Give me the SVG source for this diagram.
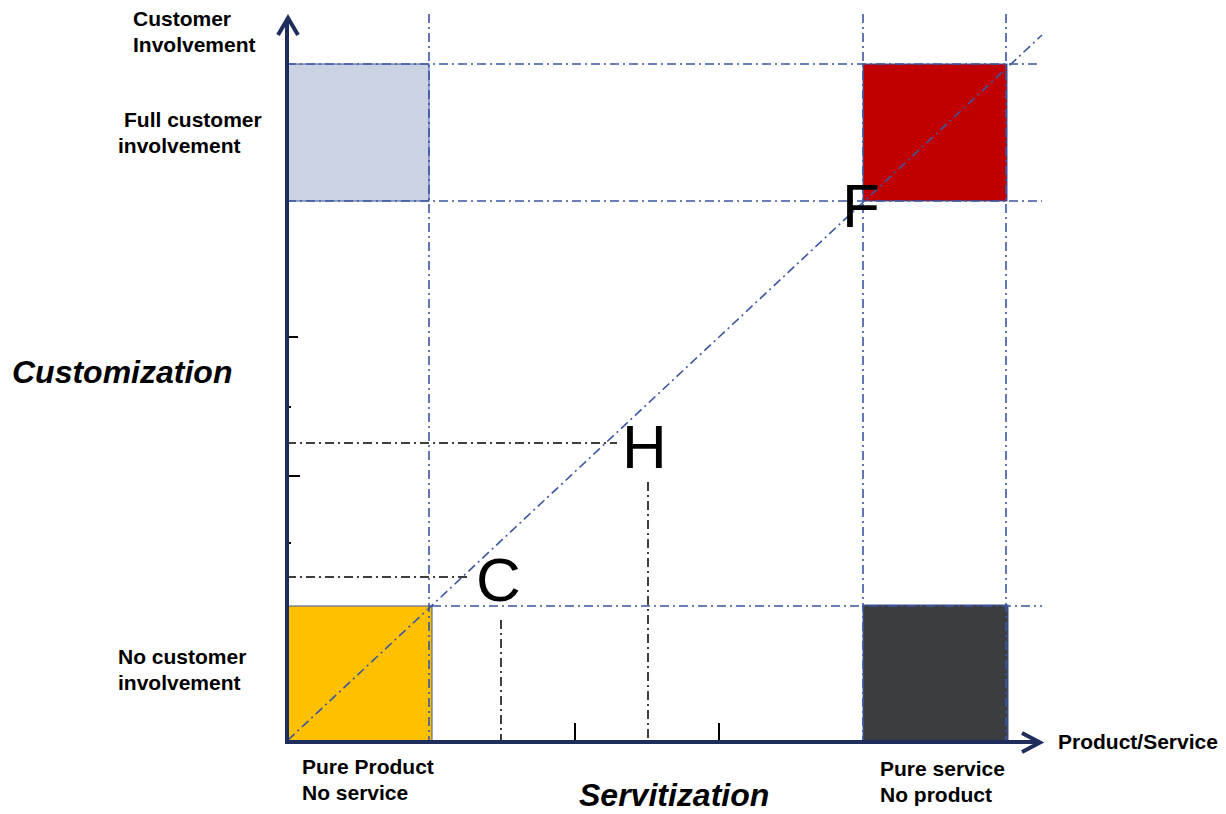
<svg xmlns="http://www.w3.org/2000/svg" width="1226" height="814" viewBox="0 0 1226 814">
<style>
.lbl{font-family:"Liberation Sans",Arial,sans-serif;font-weight:bold;font-size:21px;fill:#000}
.ax{font-family:"Liberation Sans",Arial,sans-serif;font-weight:bold;font-style:italic;font-size:32px;fill:#000}
.pt{font-family:"Liberation Sans",Arial,sans-serif;font-size:62px;fill:#000}
.guide{stroke:#3B56A0;stroke-width:1.6;fill:none;stroke-dasharray:9 4 2 4}
.bguide{stroke:#000;stroke-width:1.5;fill:none;stroke-dasharray:9 4 2 4}
.axis{stroke:#1F2D5C;stroke-width:4;fill:none}
.tick{stroke:#000;stroke-width:2}
.box{stroke:#3B56A0;stroke-width:1}
</style>
<rect width="1226" height="814" fill="#fff"/>
<g id="boxes">
<rect id="light" class="box" x="287" y="64" width="142" height="137" fill="#CBD2E4"/>
<rect id="red" class="box" x="863" y="64" width="144" height="137" fill="#C00000"/>
<rect id="yellow" class="box" x="287" y="606" width="145" height="136" fill="#FFC000"/>
<rect id="dark" class="box" x="863" y="605" width="145" height="137" fill="#3C3D40"/>
</g>
<g id="connectors">
<line class="guide" x1="287" y1="64" x2="1040" y2="64"/>
<line class="guide" x1="287" y1="201" x2="1042" y2="201"/>
<line class="guide" x1="432" y1="606" x2="1042" y2="606"/>
<line class="guide" x1="429" y1="14" x2="429" y2="742"/>
<line class="guide" x1="863" y1="14" x2="863" y2="742"/>
<line class="guide" x1="1006" y1="14" x2="1006" y2="742"/>
<line class="guide" x1="288" y1="740" x2="1042" y2="35"/>
<line class="bguide" x1="287" y1="443" x2="617" y2="443"/>
<line class="bguide" x1="287" y1="577" x2="470" y2="577"/>
<line class="bguide" x1="501" y1="620" x2="501" y2="742"/>
<line class="bguide" x1="648" y1="482" x2="648" y2="742"/>
<line class="tick" x1="287" y1="337" x2="298" y2="337"/>
<line class="tick" x1="287" y1="407" x2="291" y2="407"/>
<line class="tick" x1="287" y1="476" x2="300" y2="476"/>
<line class="tick" x1="287" y1="543" x2="291" y2="543"/>
<line class="tick" x1="575" y1="742" x2="575" y2="723"/>
<line class="tick" x1="719" y1="742" x2="719" y2="723"/>
<line class="axis" x1="287" y1="744" x2="287" y2="20"/>
<polyline class="axis" points="278,35 288,18 298,35"/>
<line class="axis" x1="285" y1="742" x2="1040" y2="742"/>
<polyline class="axis" points="1022,733 1040,742.5 1022,752"/>
</g>
<g id="labels">
<text class="lbl" x="133" y="26">Customer</text>
<text class="lbl" x="133" y="52">Involvement</text>
<text class="lbl" x="124" y="127">Full customer</text>
<text class="lbl" x="118" y="153">involvement</text>
<text class="lbl" x="118" y="664">No customer</text>
<text class="lbl" x="118" y="690">involvement</text>
<text class="lbl" x="302" y="774">Pure Product</text>
<text class="lbl" x="302" y="800">No service</text>
<text class="lbl" x="880" y="776">Pure service</text>
<text class="lbl" x="880" y="802">No product</text>
<text class="lbl" x="1058" y="749">Product/Service</text>
<text class="ax" x="12" y="383">Customization</text>
<text class="ax" x="579" y="806">Servitization</text>
<text class="pt" x="842" y="227">F</text>
<text class="pt" x="622" y="468">H</text>
<text class="pt" x="476" y="601">C</text>
</g>
</svg>
